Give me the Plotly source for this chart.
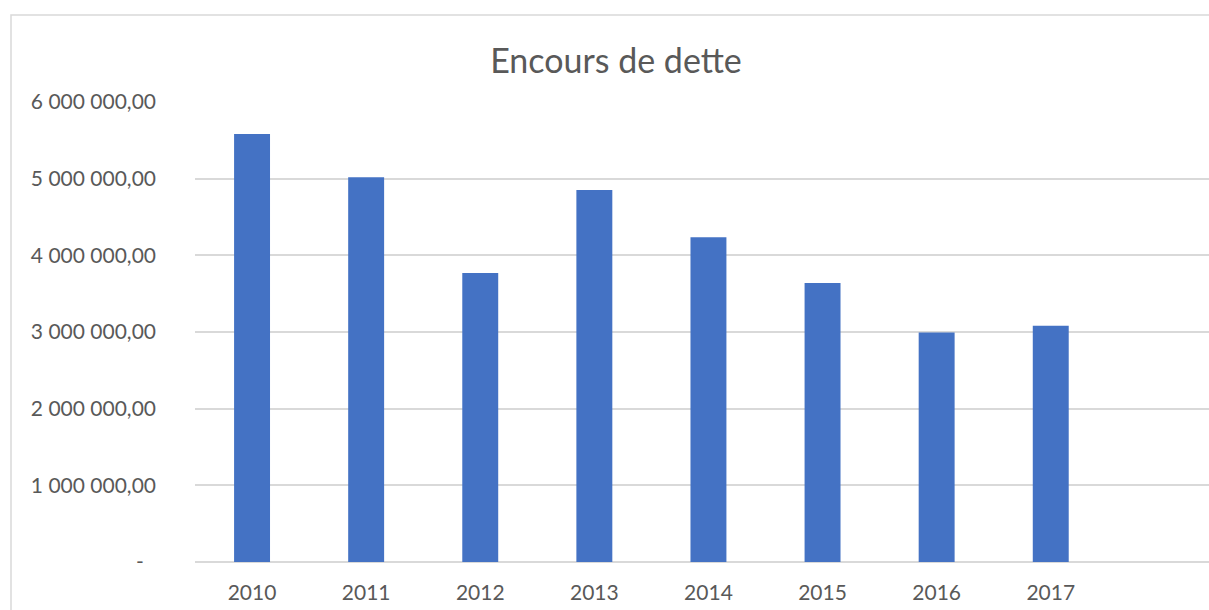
import plotly.graph_objects as go

years = ["2010", "2011", "2012", "2013", "2014", "2015", "2016", "2017"]
encours = [5583000, 5019000, 3768000, 4853000, 4237000, 3638000, 2994000, 3081000]

y_tickvals = [0, 1000000, 2000000, 3000000, 4000000, 5000000, 6000000]
y_ticktext = ["-\u2007", "1 000 000,00", "2 000 000,00", "3 000 000,00",
              "4 000 000,00", "5 000 000,00", "6 000 000,00"]

W, H = 1209, 610
L, R, T, B = 195, 0, 102, 48
pw, ph = W - L - R, H - T - B

fig = go.Figure(go.Bar(x=years, y=encours, marker=dict(color="#4472C4", line=dict(width=0))))

def px_x(px):
    return (px - L) / pw

def px_y(py):
    return (H - B - py) / ph

fig.update_layout(
    width=W, height=H,
    margin=dict(l=L, r=R, t=T, b=B, pad=0),
    paper_bgcolor="white", plot_bgcolor="white",
    bargap=0.685,
    showlegend=False,
    font=dict(family="Lato", color="#595959", size=21),
    title=dict(text="Encours de dette", x=616 / W, xref="container", xanchor="center",
               y=1 - 61 / H, yref="container", yanchor="middle",
               font=dict(family="Lato", size=34, color="#595959")),
    xaxis=dict(range=[-0.5, -0.5 + pw / 114.1], showgrid=False, zeroline=False,
               showline=False, ticks="", ticklabelstandoff=16,
               tickfont=dict(size=21, color="#595959"), fixedrange=True),
    yaxis=dict(range=[0, 6000000], tickvals=y_tickvals, ticktext=y_ticktext,
               showgrid=True, gridcolor="#d9d9d9", gridwidth=1.5,
               zeroline=True, zerolinecolor="#d9d9d9", zerolinewidth=1.5,
               showline=False, ticks="", ticklabelstandoff=38,
               tickfont=dict(size=21, color="#595959"), fixedrange=True),
    shapes=[dict(type="rect", xref="paper", yref="paper",
                 x0=px_x(11), x1=px_x(1260), y0=px_y(660), y1=px_y(15),
                 line=dict(color="#d9d9d9", width=1.5), fillcolor="rgba(0,0,0,0)",
                 layer="below")],
)

fig.write_html("out.html", config={"displayModeBar": False},
               post_script="document.body.style.margin='0';document.body.style.overflow='hidden';")
